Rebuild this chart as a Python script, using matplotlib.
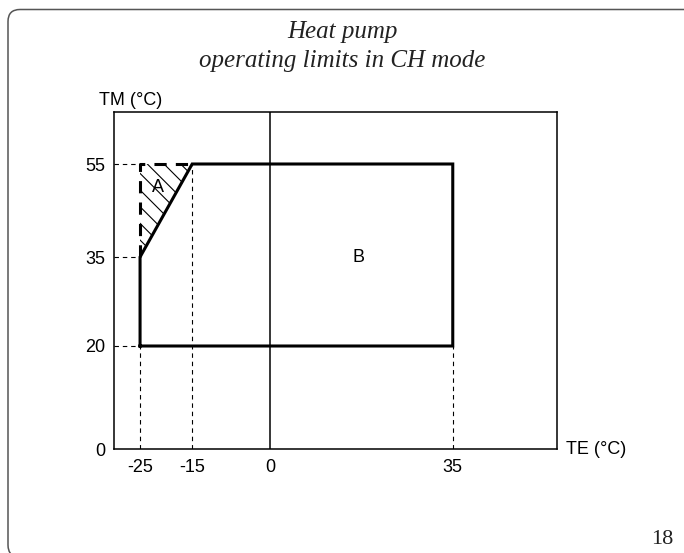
import numpy as np
import matplotlib
matplotlib.use('Agg')
import matplotlib.pyplot as plt
from matplotlib.patches import FancyBboxPatch, Polygon
from matplotlib.transforms import IdentityTransform

# operating envelope (TE outdoor temp, TM flow temp)
env_te = [-25, 35, 35, -15, -25, -25]
env_tm = [20, 20, 55, 55, 35, 20]

# zone A (triangle with hatching)
zone_a_te = [-25, -25, -15]
zone_a_tm = [35, 55, 55]

x_ticks = [-25, -15, 0, 35]
y_ticks = [0, 20, 35, 55]
x_lim = (-30, 55)
y_lim = (0, 66)

# schematic (non-uniform) y-axis spacing as drawn in the manual
y_knots = [0, 20, 35, 55, 66]
y_pos = [0, 103, 192, 285, 337]


def fwd(y):
    y = np.asarray(y, float)
    s_lo = (y_pos[1] - y_pos[0]) / (y_knots[1] - y_knots[0])
    s_hi = (y_pos[-1] - y_pos[-2]) / (y_knots[-1] - y_knots[-2])
    out = np.interp(y, y_knots, y_pos)
    out = out + np.where(y < y_knots[0], (y - y_knots[0]) * s_lo, 0)
    out = out + np.where(y > y_knots[-1], (y - y_knots[-1]) * s_hi, 0)
    return out


def inv(p):
    p = np.asarray(p, float)
    s_lo = (y_pos[1] - y_pos[0]) / (y_knots[1] - y_knots[0])
    s_hi = (y_pos[-1] - y_pos[-2]) / (y_knots[-1] - y_knots[-2])
    out = np.interp(p, y_pos, y_knots)
    out = out + np.where(p < y_pos[0], (p - y_pos[0]) / s_lo, 0)
    out = out + np.where(p > y_pos[-1], (p - y_pos[-1]) / s_hi, 0)
    return out


plt.rcParams['font.family'] = ['Liberation Sans', 'DejaVu Sans']
plt.rcParams['hatch.linewidth'] = 0.8

fig = plt.figure(figsize=(6.84, 5.53), dpi=100)
ax = fig.add_axes([114 / 684, 104 / 553, 443 / 684, 337 / 553])
ax.set_yscale('function', functions=(fwd, inv))
ax.set_xlim(*x_lim)
ax.set_ylim(*y_lim)

for s in ax.spines.values():
    s.set_linewidth(1.1)
    s.set_color('black')

dash = (0, (4, 3.5))
thin = 0.8

# dashed guide lines
for tm in [55, 35, 20]:
    ax.plot([x_lim[0], -25], [tm, tm], color='black', lw=thin, linestyle=dash)
ax.plot([-25, -25], [0, 20], color='black', lw=thin, linestyle=dash)
ax.plot([-15, -15], [0, 55], color='black', lw=thin, linestyle=dash)
ax.plot([35, 35], [0, 20], color='black', lw=thin, linestyle=dash)

# TE = 0 line
ax.axvline(0, color='black', lw=1.1)

# zone A hatching
ax.add_patch(Polygon(list(zip(zone_a_te, zone_a_tm)), closed=True, facecolor='none',
                     edgecolor='black', hatch='\\\\', lw=0))
ax.plot(zone_a_te, zone_a_tm, color='black', lw=2.2, linestyle=(0, (4, 3)))

# envelope
ax.plot(env_te, env_tm, color='black', lw=2.2, solid_joinstyle='miter')

ax.text(-21.6, 50, 'A', fontsize=13, ha='center', va='center')
ax.text(17, 35, 'B', fontsize=13, ha='center', va='center')

ax.set_xticks(x_ticks)
ax.set_yticks(y_ticks)
ax.set_xticklabels([str(v) for v in x_ticks])
ax.set_yticklabels([str(v) for v in y_ticks])
ax.tick_params(axis='both', length=0, labelsize=13)
ax.tick_params(axis='x', pad=7)
ax.tick_params(axis='y', pad=6)
ax.minorticks_off()

fig.text(99 / 684, 1 - 105 / 553, 'TM (°C)', fontsize=13, ha='left', va='baseline')
fig.text(566 / 684, 1 - 449 / 553, 'TE (°C)', fontsize=13, ha='left', va='center')

serif = ['Liberation Serif', 'DejaVu Serif']
fig.text(0.5, 1 - 38 / 553, 'Heat pump', fontsize=18, family=serif, style='italic',
         ha='center', va='baseline', color='#222222')
fig.text(0.5, 1 - 67 / 553, 'operating limits in CH mode', fontsize=18, family=serif,
         style='italic', ha='center', va='baseline', color='#222222')
fig.text(673 / 684, 1 - 539 / 553, '18', fontsize=16, family=serif, ha='right', va='center',
         color='#222222')

# page frame
frame = FancyBboxPatch((8, -4), 700, 547.5, boxstyle='round,pad=0,rounding_size=12',
                       transform=IdentityTransform(), facecolor='none', edgecolor='#555555',
                       lw=1.1)
fig.add_artist(frame)

fig.savefig('out.png', dpi=100)
